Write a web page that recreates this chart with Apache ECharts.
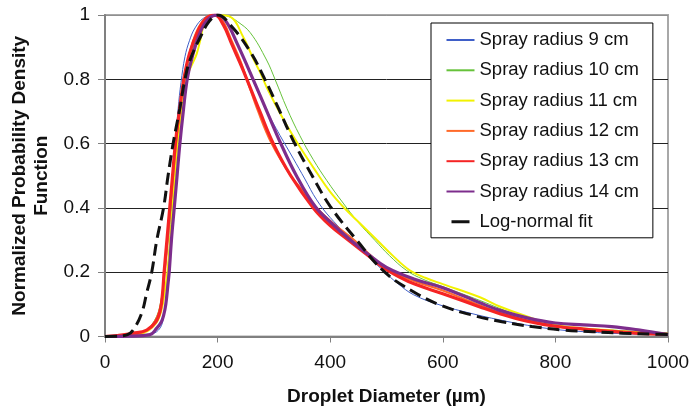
<!DOCTYPE html>
<html>
<head>
<meta charset="utf-8">
<script src="https://cdn.jsdelivr.net/npm/echarts@6/dist/echarts.min.js"></script>
<style>
html,body{margin:0;padding:0;background:#fff;}
#chart{width:691px;height:408px;}
</style>
</head>
<body>
<div id="chart"></div>
<script>
// ---- data (x = droplet diameter in µm, y = normalized PDF) ----
const seriesNames = ['Spray radius 9 cm','Spray radius 10 cm','Spray radius 11 cm','Spray radius 12 cm','Spray radius 13 cm','Spray radius 14 cm','Log-normal fit'];
const xTicks = [0, 200, 400, 600, 800, 1000];
const yTicks = [0, 0.2, 0.4, 0.6, 0.8, 1];

const radius9 = [[0,0],[60,0.002],[80,0.006],[95,0.02],[103,0.05],[108,0.12],[112,0.22],[116,0.33],[120,0.46],[125,0.6],[130,0.71],[135,0.79],[142,0.87],[150,0.92],[160,0.96],[175,0.99],[195,1.0],[210,0.99],[225,0.95],[245,0.87],[262,0.8],[285,0.71],[311,0.625],[334,0.555],[355,0.49],[376,0.425],[400,0.37],[447,0.285],[494,0.205],[520,0.165],[548,0.13],[595,0.098],[650,0.072],[700,0.052],[750,0.035],[800,0.022],[850,0.015],[900,0.01],[950,0.007],[1000,0.005]];
const radius10 = [[0,0],[40,0.002],[70,0.015],[88,0.05],[98,0.1],[106,0.2],[112,0.3],[118,0.42],[124,0.55],[130,0.65],[138,0.76],[145,0.82],[155,0.89],[168,0.95],[185,0.99],[205,1.0],[220,0.995],[235,0.98],[258,0.945],[287,0.86],[302,0.8],[323,0.71],[346,0.625],[370,0.55],[394,0.485],[423,0.415],[450,0.355],[480,0.298],[505,0.252],[536,0.205],[565,0.178],[600,0.155],[666,0.112],[700,0.088],[750,0.055],[800,0.033],[850,0.025],[900,0.02],[950,0.015],[1000,0.012]];
const radius11 = [[0,0],[40,0.002],[70,0.012],[90,0.04],[100,0.08],[107,0.15],[112,0.22],[117,0.33],[122,0.45],[128,0.58],[134,0.68],[140,0.76],[148,0.82],[157,0.855],[163,0.88],[169,0.92],[175,0.965],[185,0.99],[200,1.0],[222,0.995],[246,0.93],[263,0.865],[276,0.82],[290,0.765],[317,0.675],[346,0.59],[376,0.51],[400,0.45],[426,0.398],[454,0.35],[483,0.3],[512,0.25],[542,0.205],[570,0.182],[600,0.163],[666,0.122],[700,0.094],[750,0.062],[800,0.036],[850,0.025],[900,0.019],[950,0.013],[1000,0.008]];
const radius12 = [[0,0],[40,0.003],[70,0.015],[88,0.045],[98,0.09],[105,0.18],[110,0.27],[116,0.4],[122,0.52],[128,0.63],[134,0.72],[140,0.8],[150,0.88],[163,0.95],[178,0.99],[193,1.0],[205,0.99],[213,0.97],[225,0.92],[240,0.86],[250,0.81],[272,0.7],[296,0.6],[330,0.5],[353,0.45],[376,0.4],[410,0.345],[444,0.298],[472,0.252],[502,0.207],[550,0.172],[600,0.143],[650,0.108],[700,0.075],[750,0.05],[800,0.032],[850,0.022],[900,0.015],[950,0.01],[1000,0.007]];
const radius13 = [[0,0],[21,0.003],[50,0.01],[74,0.02],[90,0.045],[98,0.08],[102,0.13],[105,0.2],[110,0.3],[115,0.4],[120,0.5],[125,0.6],[132,0.7],[140,0.8],[150,0.88],[165,0.95],[180,0.99],[195,1.0],[210,0.97],[225,0.91],[240,0.85],[252,0.8],[275,0.7],[299,0.6],[330,0.5],[370,0.4],[400,0.345],[432,0.3],[465,0.255],[494,0.215],[524,0.184],[550,0.163],[600,0.133],[666,0.092],[700,0.072],[750,0.048],[800,0.032],[850,0.023],[900,0.016],[950,0.01],[1000,0.007]];
const radius14 = [[0,0],[40,0.001],[80,0.006],[92,0.026],[100,0.045],[104,0.065],[108,0.1],[112,0.165],[114,0.2],[118,0.3],[123,0.4],[128,0.5],[133,0.6],[139,0.7],[146,0.8],[155,0.87],[170,0.95],[185,0.99],[200,1.0],[215,0.98],[235,0.91],[263,0.8],[290,0.69],[311,0.605],[340,0.5],[373,0.405],[404,0.35],[436,0.3],[468,0.255],[500,0.215],[550,0.178],[600,0.152],[666,0.105],[700,0.082],[750,0.058],[800,0.042],[850,0.036],[900,0.031],[950,0.02],[1000,0.006]];
const logNormalFit = [[0,0],[20,0.0005],[40,0.006],[50,0.02],[65,0.072],[74,0.135],[83,0.2],[92,0.3],[104,0.4],[112,0.5],[121,0.6],[133,0.71],[142,0.8],[151,0.86],[169,0.93],[185,0.98],[200,1.0],[227,0.96],[258,0.886],[284,0.8],[308,0.71],[337,0.6],[368,0.5],[400,0.405],[447,0.3],[497,0.2],[547,0.14],[595,0.098],[651,0.067],[705,0.046],[758,0.031],[814,0.02],[867,0.015],[920,0.01],[977,0.007],[1000,0.006]];

const seriesData = [radius9, radius10, radius11, radius12, radius13, radius14, logNormalFit];
const colors = ['#3f5fc8','#66c23a','#f2f200','#ff6a2a','#f52424','#7d2d8c','#111111'];
const widths = [1, 1, 2, 2, 3.2, 3.2, 3];

const FONT = 'Liberation Sans, Arial, sans-serif';
const chart = echarts.init(document.getElementById('chart'), null, {renderer:'canvas'});

const series = seriesData.map((d, i) => ({
  name: seriesNames[i],
  type: 'line',
  data: d,
  showSymbol: false,
  symbol: 'none',
  smooth: 0.4,
  lineStyle: {
    color: colors[i],
    width: widths[i],
    type: i === 6 ? [12, 6] : 'solid'
  },
  itemStyle: {color: colors[i]},
  z: 3 + i
}));

chart.setOption({
  animation: false,
  backgroundColor: '#fff',
  grid: {left: 105, top: 15, right: 23, bottom: 71.5, show: true, borderColor: '#a8a8a8', borderWidth: 2, backgroundColor: 'transparent', containLabel: false, outerBoundsMode: 'none'},
  xAxis: {
    type: 'value', min: xTicks[0], max: xTicks[xTicks.length-1], interval: 200,
    axisLine: {show: true, lineStyle: {color: '#808080', width: 2}},
    axisTick: {show: true, inside: false, length: 6, lineStyle: {color: '#808080', width: 1}},
    splitLine: {show: false},
    axisLabel: {color: '#111', fontSize: 19, fontFamily: FONT, margin: 17, formatter: v => String(v)},
    name: 'Droplet Diameter (µm)', nameLocation: 'middle', nameGap: 51,
    nameTextStyle: {color: '#111', fontSize: 19, fontWeight: 'bold', fontFamily: FONT}
  },
  yAxis: {
    type: 'value', min: yTicks[0], max: yTicks[yTicks.length-1], interval: 0.2,
    axisLine: {show: true, lineStyle: {color: '#808080', width: 2}},
    axisTick: {show: true, inside: false, length: 7, lineStyle: {color: '#808080', width: 1}},
    splitLine: {show: true, lineStyle: {color: ['#808080','#222','#222','#222','#222','#909090'], width: 1}},
    axisLabel: {color: '#111', fontSize: 19, fontFamily: FONT, margin: 15},
    name: 'Normalized Probability Density\nFunction', nameLocation: 'middle', nameGap: 50, nameRotate: 90,
    nameTextStyle: {color: '#111', fontSize: 19, fontWeight: 'bold', fontFamily: FONT, lineHeight: 22, align: 'center'}
  },
  legend: {
    data: seriesNames.map((n, i) => i === 6 ? {name: n, lineStyle: {type: [0, 5, 18, 5], width: 3}} : {name: n}),
    orient: 'vertical',
    left: 431, top: 23,
    padding: [7, 14, 6, 14],
    itemWidth: 28, itemHeight: 20, itemGap: 10.3,
    backgroundColor: '#fff', borderColor: '#000', borderWidth: 1,
    itemStyle: {opacity: 0},
    textStyle: {color: '#111', fontSize: 18.5, fontFamily: FONT, lineHeight: 20, padding: [0,0,0,0]},
    selectedMode: false
  },
  series: series
});
</script>
</body>
</html>
